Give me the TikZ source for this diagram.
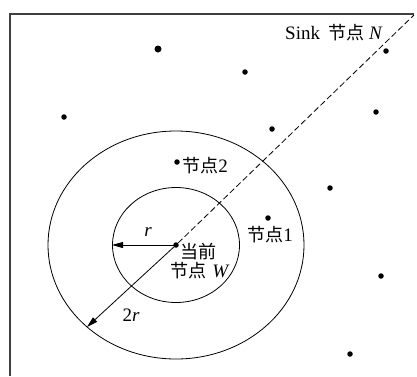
\documentclass[tikz,border=0pt]{standalone}
\usepackage{fontspec}
\setmainfont{Liberation Serif}
\newfontfamily\cjk[Scale=0.95]{Noto Sans CJK SC}
\usetikzlibrary{arrows.meta}

\begin{document}
\begin{tikzpicture}[x=1pt, y=-1pt, font=\fontsize{19}{22}\selectfont,
    dot/.style={circle, fill=black, inner sep=0pt, minimum size=5.5pt},
    lbl/.style={inner sep=0pt}]
    \useasboundingbox (0,0) rectangle (417,376);

    % cadre
    \draw[line width=1.2pt, black!75] (414,14) -- (10,14) -- (10,376);

    % noeud courant et zones
    \node[dot] (W) at (176,245) {};
    \draw[line width=0.8pt] (W) ellipse [x radius=63.5, y radius=57.5];
    \draw[line width=0.8pt] (W) ellipse [x radius=128, y radius=114];

    % autres noeuds
    \node[dot, minimum size=7pt] (a) at (158,49) {};
    \node[dot] (b) at (245,72) {};
    \node[dot] (c) at (64,117) {};
    \node[dot] (d) at (272,129) {};
    \node[dot] (e) at (376,112) {};
    \node[dot] (N) at (386,51) {};
    \node[dot] (n2) at (177,162) {};
    \node[dot] (f) at (330,188) {};
    \node[dot] (n1) at (268,218) {};
    \node[dot] (g) at (381,276) {};
    \node[dot] (h) at (350,354) {};

    % vers Sink
    \coordinate (corner) at (414,15);
    \draw[dashed, dash pattern=on 6pt off 3pt, line width=0.8pt] (W) -- (corner);

    % rayons
    \coordinate (r1) at (112,245);
    \coordinate (r2) at (87,327);
    \draw[line width=0.8pt, -{Triangle[length=11pt, width=6pt]}] (W.center) -- (r1);
    \draw[line width=0.8pt, -{Triangle[length=11pt, width=6pt]}] (W.center) -- (r2);

    \node[lbl] (lr) at (148,232) {\textit{r}};
    \node[lbl] (l2r) at (131,315) {2\textit{r}};
    \node[lbl, anchor=west] (lW1) at (180,252) {{\cjk 当前}};
    \node[lbl, anchor=west] (lW2) at (170,271) {{\cjk 节点}\hspace{6pt}\textit{W}};
    \node[lbl, anchor=west] (l1) at (247,235) {{\cjk 节点}1};
    \node[lbl, anchor=west] (l2) at (182,166) {{\cjk 节点}2};
    \node[lbl, anchor=west] (lN) at (285,33) {Sink\hspace{8pt}{\cjk 节点}\hspace{5pt}\textit{N}};
\end{tikzpicture}
\end{document}
